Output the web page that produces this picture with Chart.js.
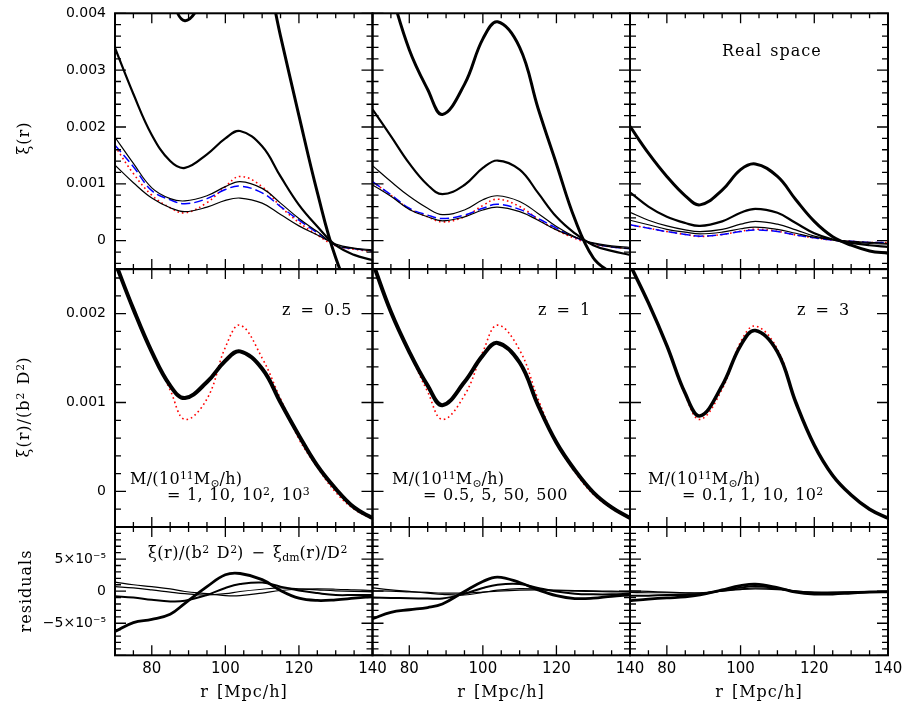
<!DOCTYPE html>
<html>
<head>
<meta charset="utf-8">
<script src="https://cdn.jsdelivr.net/npm/chart.js@4.4.0/dist/chart.umd.min.js"></script>
<style>
  body { margin: 0; background: #fff; }
  #fig { position: relative; width: 903px; height: 707px; overflow: hidden; background: #fff; }
  #fig canvas { position: absolute; left: 0; top: 0; }
  .t { position: absolute; font-family: "DejaVu Serif", serif; font-size: 16px; line-height: 16px;
       letter-spacing: 1px; word-spacing: 2px; color: #000; white-space: nowrap; }
  .t sup { font-size: 0.68em; vertical-align: 0.5em; line-height: 0; letter-spacing: 0; }
  .t sub { font-size: 0.68em; vertical-align: -0.25em; line-height: 0; letter-spacing: 0; }
  .t.tight { letter-spacing: 0.3px; word-spacing: 1px; }
  .rot { transform: translate(-50%, -50%) rotate(-90deg); }
  .ctr { transform: translate(-50%, -50%); }
</style>
</head>
<body>
<div id="fig">
  <canvas id="p00" width="903" height="707"></canvas>
  <canvas id="p01" width="903" height="707"></canvas>
  <canvas id="p02" width="903" height="707"></canvas>
  <canvas id="p10" width="903" height="707"></canvas>
  <canvas id="p11" width="903" height="707"></canvas>
  <canvas id="p12" width="903" height="707"></canvas>
  <canvas id="p20" width="903" height="707"></canvas>
  <canvas id="p21" width="903" height="707"></canvas>
  <canvas id="p22" width="903" height="707"></canvas>

  <div class="t rot" style="left:24px; top:138px;">ξ(r)</div>
  <div class="t rot" style="left:24px; top:407px;">ξ(r)/(b<sup>2</sup> D<sup>2</sup>)</div>
  <div class="t rot" style="left:26px; top:591px;">residuals</div>
  <div class="t ctr" style="left:244px; top:692px;">r [Mpc/h]</div>
  <div class="t ctr" style="left:501px; top:692px;">r [Mpc/h]</div>
  <div class="t ctr" style="left:759px; top:692px;">r [Mpc/h]</div>

  <div class="t" style="left:722px; top:43px;">Real space</div>
  <div class="t" style="left:282px; top:302px; word-spacing:3px;">z = 0.5</div>
  <div class="t" style="left:538px; top:302px; word-spacing:3px;">z = 1</div>
  <div class="t" style="left:797px; top:302px; word-spacing:3px;">z = 3</div>

  <div class="t tight" style="left:130px; top:471px;">M/(10<sup>11</sup>M<sub>⊙</sub>/h)</div>
  <div class="t tight" style="left:167px; top:487px;">= 1, 10, 10<sup>2</sup>, 10<sup>3</sup></div>
  <div class="t tight" style="left:392px; top:471px;">M/(10<sup>11</sup>M<sub>⊙</sub>/h)</div>
  <div class="t tight" style="left:423px; top:487px;">= 0.5, 5, 50, 500</div>
  <div class="t tight" style="left:648px; top:471px;">M/(10<sup>11</sup>M<sub>⊙</sub>/h)</div>
  <div class="t tight" style="left:682px; top:487px;">= 0.1, 1, 10, 10<sup>2</sup></div>

  <div class="t" style="left:148px; top:545px; letter-spacing:0.5px;">ξ(r)/(b<sup>2</sup> D<sup>2</sup>) − ξ<sub>dm</sub>(r)/D<sup>2</sup></div>
</div>

<script>
// separation r [Mpc/h]
const rGrid = [70, 75, 80, 85, 89, 95, 100, 104, 110, 115, 120, 125, 130, 135, 140];
const xTickValues = [70, 75, 80, 85, 90, 95, 100, 105, 110, 115, 120, 125, 130, 135, 140];
const xLabelled = [80, 100, 120, 140];

// real-space xi(r), units of 1e-3 -- z = 0.5
const realZ05M1000 = [10.2, 8.4, 6.8, 4.45, 3.87, 4.4, 5.3, 5.8, 5.0, 3.6, 2.2, 0.85, -0.3, -1.0, -1.3];
const realZ05M100  = [3.39, 2.58, 1.86, 1.40, 1.28, 1.52, 1.80, 1.93, 1.66, 1.13, 0.63, 0.25, -0.08, -0.25, -0.34];
const realZ05M10   = [1.82, 1.36, 0.93, 0.74, 0.70, 0.79, 0.95, 1.04, 0.92, 0.66, 0.39, 0.16, -0.08, -0.14, -0.18];
const realZ05M1    = [1.33, 1.02, 0.75, 0.58, 0.51, 0.59, 0.71, 0.75, 0.66, 0.46, 0.26, 0.10, -0.06, -0.13, -0.16];
const realZ05Dm    = [1.68, 1.30, 0.88, 0.72, 0.65, 0.74, 0.90, 0.96, 0.84, 0.60, 0.36, 0.14, -0.08, -0.14, -0.18];
const realZ05Lin   = [1.66, 1.18, 0.80, 0.58, 0.49, 0.67, 0.95, 1.13, 0.95, 0.60, 0.32, 0.10, -0.09, -0.15, -0.19];

// z = 1
const realZ1M500 = [5.6, 4.4, 3.36, 2.66, 2.22, 2.75, 3.55, 3.85, 3.40, 2.33, 1.35, 0.38, -0.30, -0.58, -0.85];
const realZ1M50  = [2.31, 1.84, 1.36, 0.98, 0.82, 0.98, 1.28, 1.41, 1.25, 0.84, 0.42, 0.13, -0.08, -0.18, -0.25];
const realZ1M5   = [1.32, 1.04, 0.78, 0.57, 0.46, 0.54, 0.72, 0.79, 0.69, 0.48, 0.25, 0.07, -0.05, -0.11, -0.14];
const realZ1M05  = [0.98, 0.78, 0.55, 0.42, 0.35, 0.42, 0.54, 0.59, 0.51, 0.36, 0.19, 0.06, -0.04, -0.09, -0.12];
const realZ1Dm   = [1.04, 0.81, 0.57, 0.45, 0.39, 0.45, 0.57, 0.64, 0.55, 0.39, 0.22, 0.06, -0.05, -0.11, -0.14];
const realZ1Lin  = [1.04, 0.80, 0.56, 0.42, 0.33, 0.42, 0.62, 0.73, 0.60, 0.38, 0.19, 0.04, -0.06, -0.11, -0.14];

// z = 3
const realZ3M100 = [2.01, 1.54, 1.13, 0.79, 0.63, 0.89, 1.25, 1.35, 1.13, 0.72, 0.34, 0.07, -0.08, -0.18, -0.22];
const realZ3M10  = [0.85, 0.60, 0.42, 0.31, 0.26, 0.34, 0.49, 0.56, 0.49, 0.31, 0.13, 0.02, -0.04, -0.08, -0.11];
const realZ3M1   = [0.50, 0.36, 0.26, 0.19, 0.16, 0.20, 0.29, 0.34, 0.29, 0.19, 0.08, 0.02, -0.02, -0.05, -0.06];
const realZ3M01  = [0.36, 0.28, 0.20, 0.15, 0.12, 0.15, 0.21, 0.24, 0.20, 0.13, 0.06, 0.02, -0.01, -0.03, -0.05];
const realZ3Dm   = [0.28, 0.22, 0.16, 0.11, 0.08, 0.11, 0.16, 0.19, 0.16, 0.10, 0.05, 0.01, -0.01, -0.03, -0.035];
const realZ3Lin  = [0.28, 0.22, 0.16, 0.11, 0.075, 0.11, 0.165, 0.20, 0.165, 0.10, 0.05, 0.01, -0.01, -0.03, -0.035];

// xi/(b^2 D^2), units of 1e-3 (haloes of all masses lie on one curve)
const scaledZ05    = [2.58, 2.05, 1.57, 1.19, 1.05, 1.23, 1.47, 1.575, 1.38, 1.00, 0.63, 0.29, 0.03, -0.18, -0.30];
const scaledZ05Lin = [2.58, 2.05, 1.57, 1.14, 0.81, 1.04, 1.62, 1.87, 1.50, 1.04, 0.59, 0.27, -0.01, -0.20, -0.31];
const scaledZ1     = [2.58, 2.02, 1.57, 1.19, 0.97, 1.23, 1.53, 1.67, 1.45, 0.97, 0.55, 0.24, -0.01, -0.18, -0.30];
const scaledZ1Lin  = [2.58, 2.02, 1.56, 1.12, 0.81, 1.08, 1.57, 1.87, 1.59, 1.04, 0.55, 0.22, -0.03, -0.19, -0.31];
const scaledZ3     = [2.55, 2.12, 1.64, 1.10, 0.85, 1.19, 1.64, 1.81, 1.57, 1.00, 0.52, 0.18, -0.04, -0.20, -0.30];
const scaledZ3Lin  = [2.55, 2.12, 1.64, 1.08, 0.81, 1.15, 1.68, 1.86, 1.60, 1.00, 0.52, 0.18, -0.04, -0.20, -0.30];

// residuals xi/(b^2 D^2) - xi_dm/D^2, units of 1e-5
const residZ05M1000 = [-6.3, -4.9, -4.4, -3.6, -1.9, 0.7, 2.55, 2.75, 1.8, 0.1, -1.1, -1.45, -1.35, -1.1, -0.85];
const residZ05M100  = [-0.8, -1.0, -1.35, -1.6, -1.5, -0.6, 0.5, 1.1, 1.35, 0.7, 0.1, -0.3, -0.6, -0.6, -0.6];
const residZ05M10   = [0.7, 0.5, 0.2, -0.15, -0.4, -0.6, -0.4, -0.05, 0.3, 0.5, 0.35, 0.2, 0.05, -0.05, -0.1];
const residZ05M1    = [1.4, 1.0, 0.7, 0.35, -0.05, -0.4, -0.7, -0.7, -0.3, 0.1, 0.3, 0.35, 0.3, 0.2, 0.1];

const residZ1M500 = [-4.3, -3.3, -2.9, -2.55, -2.0, -0.05, 1.5, 2.2, 1.35, 0.2, -0.7, -1.15, -1.1, -0.8, -0.6];
const residZ1M50  = [-1.0, -1.05, -1.1, -1.15, -1.15, -0.4, 0.5, 1.0, 1.1, 0.5, -0.05, -0.4, -0.5, -0.5, -0.4];
const residZ1M5   = [0.5, 0.2, -0.05, -0.3, -0.5, -0.6, -0.2, 0.15, 0.4, 0.3, 0.1, 0, -0.05, -0.1, -0.15];
const residZ1M05  = [0.05, 0, -0.1, -0.2, -0.3, -0.3, -0.15, 0, 0.15, 0.2, 0.15, 0.1, 0.05, 0, -0.05];

const residZ3M100 = [-1.5, -1.25, -1.05, -0.9, -0.6, 0.2, 0.85, 1.1, 0.55, -0.15, -0.45, -0.45, -0.3, -0.15, -0.1];
const residZ3M10  = [-0.7, -0.7, -0.6, -0.6, -0.45, 0.1, 0.55, 0.8, 0.45, -0.05, -0.3, -0.3, -0.2, -0.15, -0.1];
const residZ3M1   = [-0.2, -0.25, -0.25, -0.3, -0.3, 0.05, 0.35, 0.5, 0.35, 0, -0.2, -0.2, -0.15, -0.1, -0.05];
const residZ3M01  = [0.05, -0.05, -0.15, -0.25, -0.25, 0, 0.25, 0.35, 0.25, 0, -0.15, -0.15, -0.1, -0.05, -0.05];

// panel edges in page pixels
const colLeft = [115, 372.5, 630];
const colRight = [372.5, 630, 888];
const rowTop = [13.3, 269.1, 527];
const rowBottom = [269.1, 527, 655.3];

function stepTicks(from, to, step) {
  const out = [];
  for (let v = from; v <= to + 1e-9; v += step) out.push(Math.round(v * 100) / 100);
  return out;
}

// one y axis per row: xi(r), xi/(b^2D^2), residuals
const rowAxes = [
  { min: -0.5, max: 4, ticks: stepTicks(-0.4, 4, 0.2), major: 1,
    label: v => v === 0 ? '0' : '0.00' + v },
  { min: -0.4, max: 2.5, ticks: stepTicks(-0.4, 2.4, 0.2), major: 1,
    label: v => v === 0 ? '0' : '0.00' + v },
  { min: -10, max: 10, ticks: stepTicks(-10, 10, 1), major: 5,
    label: v => v === 0 ? '0' : Math.abs(v) === 5 ? (v < 0 ? '\u22125' : '5') + '\u00d710\u207b\u2075' : '' }
];

function isMajor(v, step) {
  return Math.abs(v / step - Math.round(v / step)) < 1e-6;
}

// inward tick marks on all four sides plus the panel frame
const frameTicks = {
  id: 'frameTicks',
  afterDatasetsDraw(chart) {
    const { ctx, chartArea: a } = chart;
    const xs = chart.scales.x, ys = chart.scales.y;
    const yMajor = chart.options.plugins.frameTicks.major;
    ctx.save();
    ctx.strokeStyle = '#000';
    ctx.lineWidth = 1.3;
    ctx.beginPath();
    xs.ticks.forEach(t => {
      const px = xs.getPixelForValue(t.value);
      const len = isMajor(t.value, 20) ? 10 : 5;
      ctx.moveTo(px, a.bottom); ctx.lineTo(px, a.bottom - len);
      ctx.moveTo(px, a.top); ctx.lineTo(px, a.top + len);
    });
    ys.ticks.forEach(t => {
      const py = ys.getPixelForValue(t.value);
      const len = isMajor(t.value, yMajor) ? 11 : 6;
      ctx.moveTo(a.left, py); ctx.lineTo(a.left + len, py);
      ctx.moveTo(a.right, py); ctx.lineTo(a.right - len, py);
    });
    ctx.stroke();
    ctx.lineWidth = 2;
    ctx.strokeRect(a.left, a.top, a.right - a.left, a.bottom - a.top);
    ctx.restore();
  }
};

function curve(values, width, color, dash) {
  return {
    data: rGrid.map((r, i) => ({ x: r, y: values[i] })),
    borderColor: color || '#000',
    borderWidth: width,
    borderDash: dash || [],
    pointRadius: 0,
    tension: 0.4,
    fill: false
  };
}
const dmStyle = v => curve(v, 1.5, '#0000ff', [9, 4]);
const linStyle = v => curve(v, 1.6, '#ff0000', [1.6, 3]);

function drawPanel(row, col, datasets) {
  const ax = rowAxes[row];
  // the left column's y axis and the bottom row's x axis take the page margin for their labels
  const yAxisWidth = col === 0 ? colLeft[0] : 0;
  const xAxisHeight = row === 2 ? 707 - rowBottom[2] : 0;
  new Chart(document.getElementById('p' + row + col), {
    type: 'line',
    data: { datasets },
    options: {
      responsive: false,
      animation: false,
      events: [],
      layout: {
        padding: {
          left: colLeft[col] - yAxisWidth,
          right: 903 - colRight[col],
          top: rowTop[row],
          bottom: 707 - rowBottom[row] - xAxisHeight
        }
      },
      plugins: { legend: { display: false }, tooltip: { enabled: false }, frameTicks: { major: ax.major } },
      scales: {
        x: {
          type: 'linear', min: 70, max: 140,
          afterBuildTicks: s => { s.ticks = xTickValues.map(v => ({ value: v })); },
          afterFit: s => { s.height = xAxisHeight; s.paddingLeft = 0; s.paddingRight = 0; },
          grid: { display: false, drawTicks: false }, border: { display: false },
          ticks: {
            display: row === 2, autoSkip: false, maxRotation: 0, padding: 5, color: '#000',
            font: { family: 'DejaVu Sans', size: 15 },
            callback: v => xLabelled.includes(v) ? String(v) : ''
          }
        },
        y: {
          type: 'linear', min: ax.min, max: ax.max,
          afterBuildTicks: s => { s.ticks = ax.ticks.map(v => ({ value: v })); },
          afterFit: s => { s.width = yAxisWidth; s.paddingTop = 0; s.paddingBottom = 0; },
          grid: { display: false, drawTicks: false }, border: { display: false },
          ticks: {
            display: col === 0, autoSkip: false, padding: 9, color: '#000',
            font: { family: 'DejaVu Sans', size: 14 },
            callback: v => isMajor(v, ax.major) ? ax.label(v) : ''
          }
        }
      }
    },
    plugins: [frameTicks]
  });
}

// top row: real-space correlation functions
drawPanel(0, 0, [
  curve(realZ05M1000, 3), curve(realZ05M100, 2.2), curve(realZ05M10, 1.2), curve(realZ05M1, 1.2),
  dmStyle(realZ05Dm), linStyle(realZ05Lin)
]);
drawPanel(0, 1, [
  curve(realZ1M500, 3), curve(realZ1M50, 2.2), curve(realZ1M5, 1.2), curve(realZ1M05, 1.2),
  dmStyle(realZ1Dm), linStyle(realZ1Lin)
]);
drawPanel(0, 2, [
  curve(realZ3M100, 3), curve(realZ3M10, 2.2), curve(realZ3M1, 1.2), curve(realZ3M01, 1.2),
  dmStyle(realZ3Dm), linStyle(realZ3Lin)
]);

// middle row: rescaled by b^2 D^2
drawPanel(1, 0, [curve(scaledZ05, 4), linStyle(scaledZ05Lin)]);
drawPanel(1, 1, [curve(scaledZ1, 4), linStyle(scaledZ1Lin)]);
drawPanel(1, 2, [curve(scaledZ3, 3.5), linStyle(scaledZ3Lin)]);

// bottom row: residuals
drawPanel(2, 0, [
  curve(residZ05M1000, 2.8), curve(residZ05M100, 2), curve(residZ05M10, 1.2), curve(residZ05M1, 1.2)
]);
drawPanel(2, 1, [
  curve(residZ1M500, 2.8), curve(residZ1M50, 2), curve(residZ1M5, 1.2), curve(residZ1M05, 1.2)
]);
drawPanel(2, 2, [
  curve(residZ3M100, 2.8), curve(residZ3M10, 2), curve(residZ3M1, 1.2), curve(residZ3M01, 1.2)
]);
</script>
</body>
</html>
